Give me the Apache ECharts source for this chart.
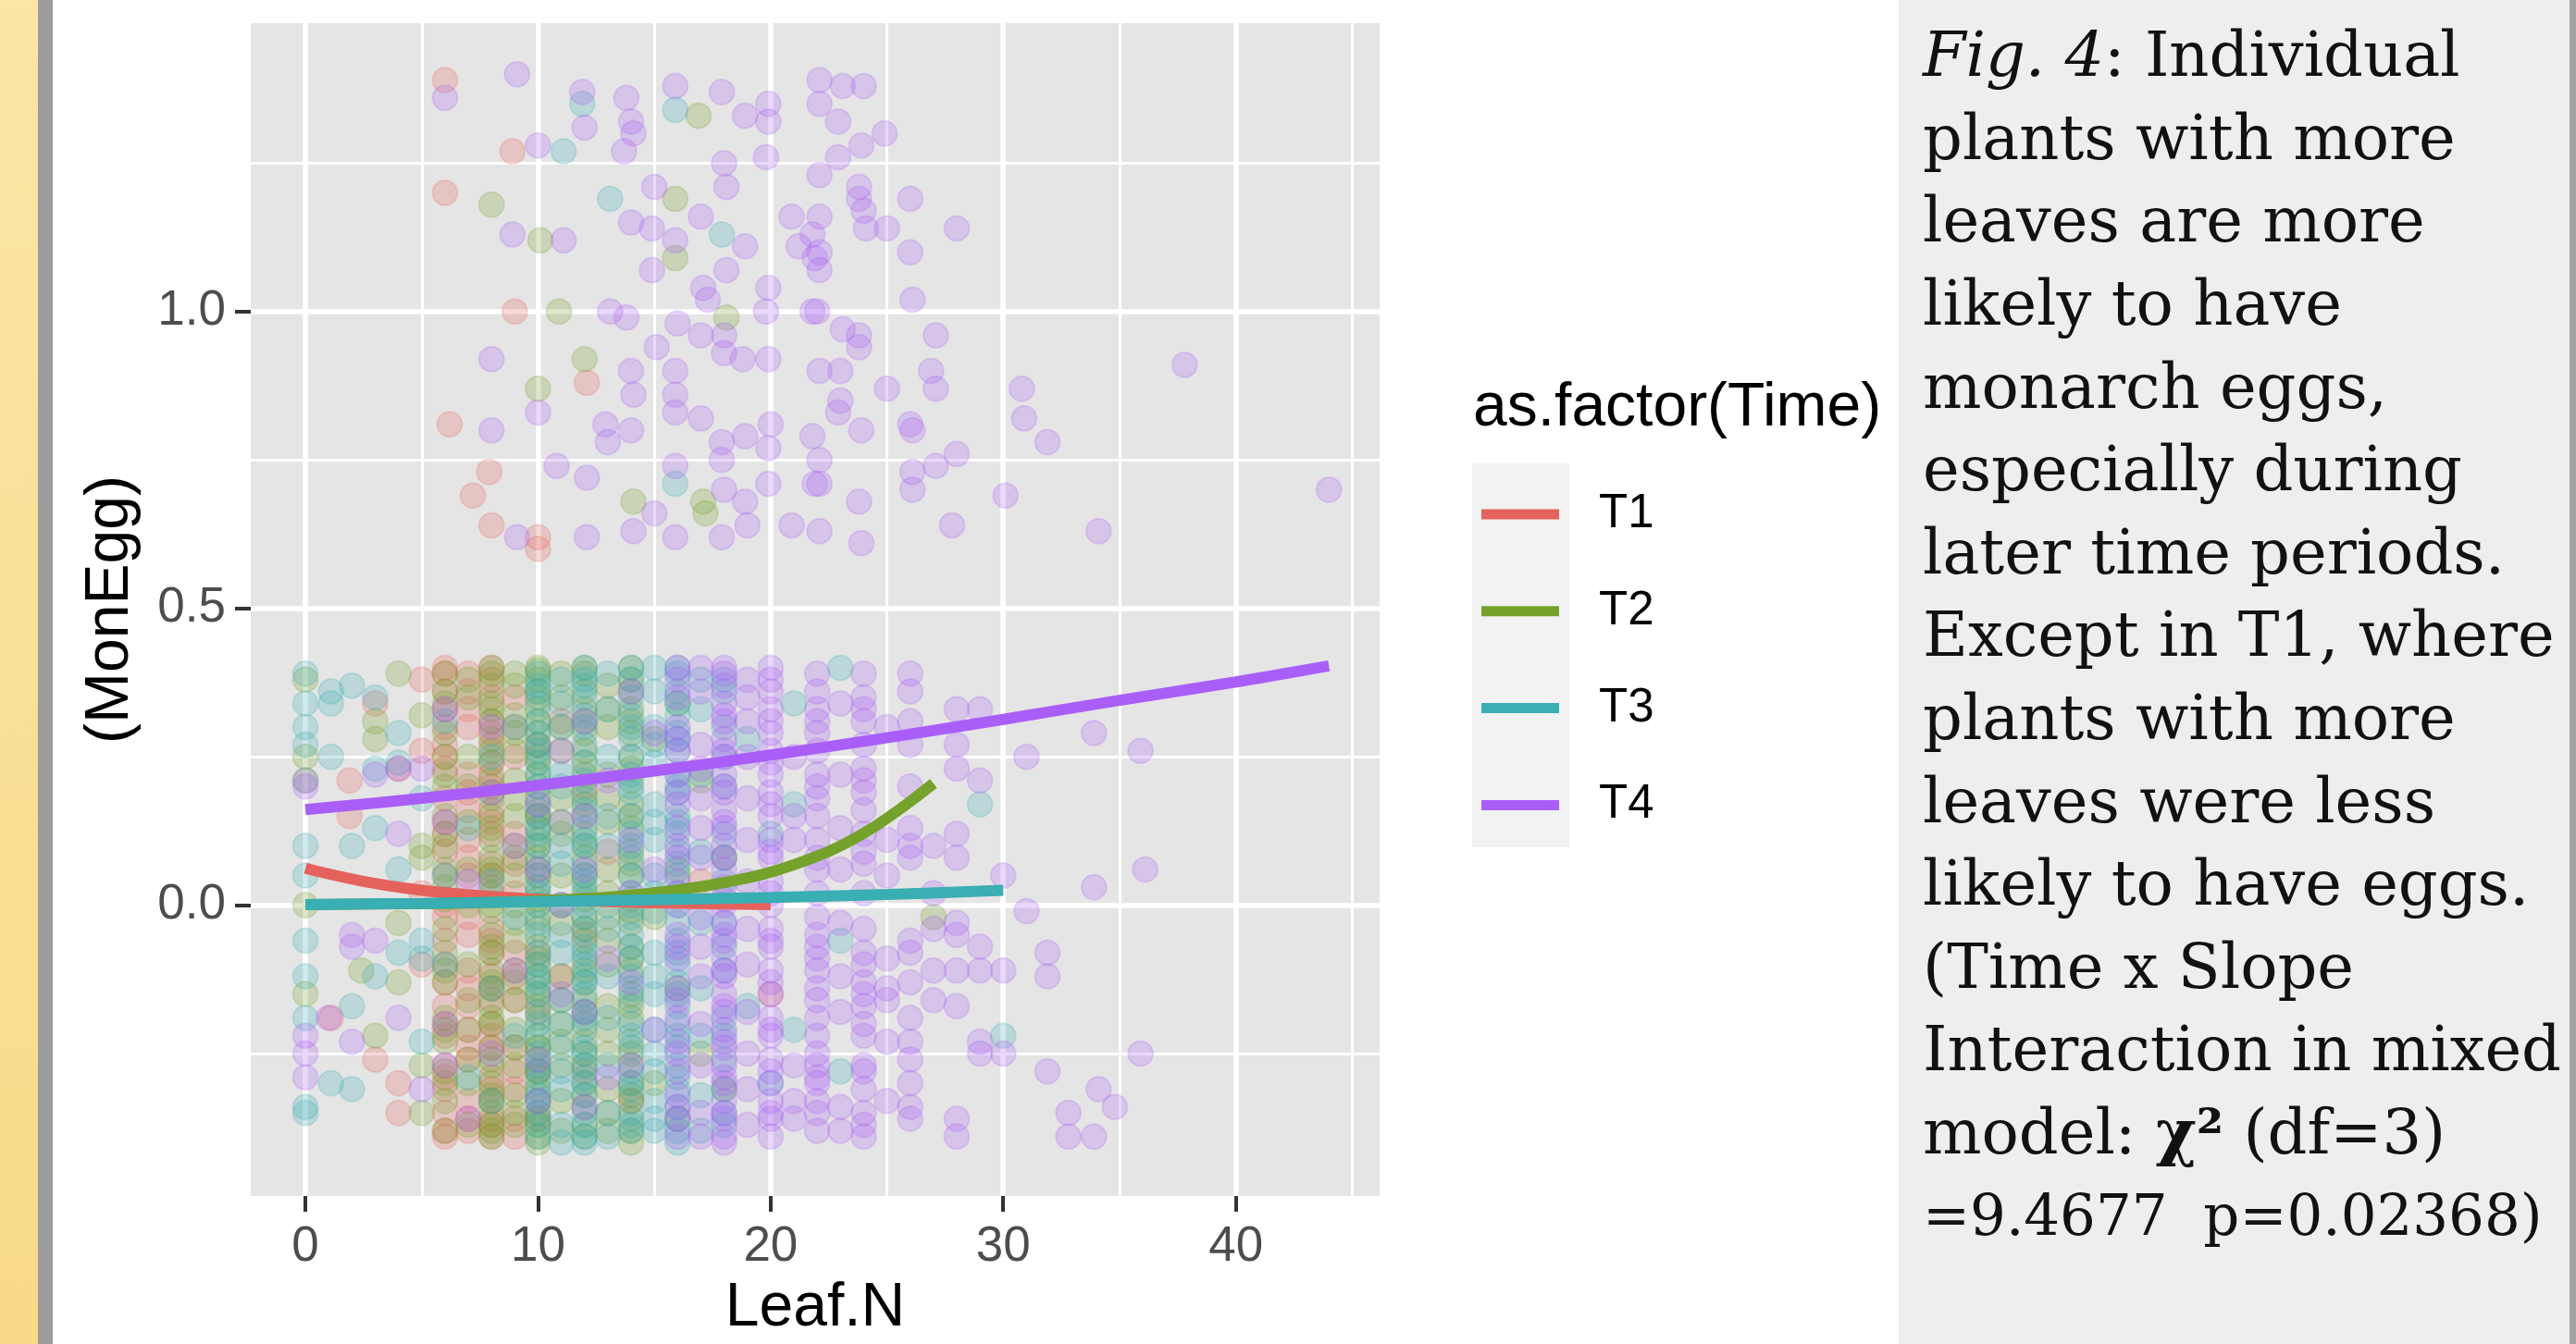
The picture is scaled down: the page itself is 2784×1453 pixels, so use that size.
<!DOCTYPE html>
<html>
<head>
<meta charset="utf-8">
<title>MonEgg vs Leaf.N</title>
<script src="https://cdn.jsdelivr.net/npm/echarts@6/dist/echarts.min.js"></script>
<style>
  html, body { margin: 0; padding: 0; background: #fff; }
  #chart { width: 2784px; height: 1453px; }
</style>
</head>
<body>
<div id="chart"></div>
<script>
const timeNames = ['T1', 'T2', 'T3', 'T4']
const timeColors = ['#E5625C', '#74A22A', '#39AEB3', '#A95EF7']

const xMajor = [0, 10, 20, 30, 40]
const xMinor = [5, 15, 25, 35, 45]
const yMajor = [0, 0.5, 1]
const yMinor = [-0.25, 0.25, 0.75, 1.25]

// MonEgg = 0 plants, jittered: [Leaf.N, [y, y, ...]]
const t1NoEgg = [
  [0, [0.21]], [1.1, [-0.19]], [1.9, [0.21, 0.15]], [3, [0.34, -0.26]], [4, [0.23, -0.3, -0.35]],
  [5, [0.38, 0.26, 0.02, -0.1]],
  [6, [0.39, 0.33, 0.27, 0.18, 0.09, -0.02, -0.13, -0.22, -0.31, -0.38, 0.36, 0.3, 0.23, 0.14, 0.05, -0.06, -0.17, -0.27, -0.35,
    0.4, 0.25, 0.12, 0.0, -0.1, -0.2, -0.29, -0.39]],
  [7, [0.36, 0.3, 0.22, 0.11, -0.05, -0.17, -0.26, -0.33, 0.39, 0.16, 0.05, -0.11, -0.21, -0.38,
    0.33, 0.19, 0.08, -0.02, -0.14, -0.24, -0.36]],
  [8, [0.38, 0.31, 0.24, 0.16, 0.07, -0.04, -0.12, -0.2, -0.29, -0.37, 0.35, 0.27, 0.2, 0.12, 0.03, -0.08, -0.16, -0.24, -0.33, -0.39,
    0.4, 0.29, 0.22, 0.14, 0.05, -0.06, -0.14, -0.22, -0.31, -0.36]],
  [9, [0.35, 0.12, -0.08, -0.24, -0.39, 0.25, 0.02, -0.16, -0.31, 0.3, 0.07, -0.12, -0.28, -0.36]],
  [10, [0.27, 0.05, -0.18, -0.36, 0.15, -0.08, -0.28]], [11, [0.31, 0.14, -0.12]],
  [12, [0.2, -0.05, -0.28]], [13, [0.09]], [14, [-0.33]], [17, [0.04]], [20, [-0.15]]
]
const t2NoEgg = [
  [0, [0.38, 0.25, 0.0, -0.15]], [2.4, [-0.11]], [3, [0.31, 0.28, -0.22]], [4, [0.39, -0.03, -0.13]],
  [5, [0.32, 0.1, 0.08, -0.27, -0.35]],
  [6, [0.36, 0.29, 0.2, 0.1, 0.03, -0.08, -0.19, -0.28, 0.39, 0.25, 0.15, 0.06, -0.04, -0.13, -0.23, -0.33, -0.38,
    0.34, 0.22, 0.12, 0.01, -0.11, -0.21, -0.3]],
  [7, [0.25, 0.14, 0.0, -0.21, 0.35, -0.1, -0.3, 0.38, 0.2, 0.06, -0.16, -0.26, -0.37]],
  [8, [0.4, 0.34, 0.28, 0.21, 0.15, 0.08, 0.02, -0.05, -0.11, -0.17, -0.24, -0.3, -0.35, -0.39,
    0.37, 0.31, 0.24, 0.18, 0.11, 0.05, -0.01, -0.08, -0.14, -0.2, -0.27, -0.33, -0.37,
    0.39, 0.33, 0.26, 0.19, 0.13, 0.06, 0.0, -0.07, -0.13, -0.19, -0.26, -0.32, -0.38]],
  [9, [0.37, 0.26, 0.15, 0.05, -0.06, -0.16, -0.27, -0.37, 0.32, 0.21, 0.1, 0.0, -0.11, -0.21, -0.32,
    0.39, 0.29, 0.18, 0.08, -0.03, -0.13, -0.24, -0.35]],
  [10, [0.4, 0.36, 0.33, 0.31, 0.27, 0.22, 0.18, 0.13, 0.08, 0.03, -0.02, -0.07, -0.12, -0.17, -0.22, -0.26, -0.28, -0.31, -0.35, -0.39,
    0.38, 0.24, 0.15, 0.1, 0.0, -0.09, -0.14, -0.24, -0.33, -0.37,
    0.395, 0.35, 0.29, 0.25, 0.2, 0.16, 0.11, 0.06, 0.01, -0.04, -0.1, -0.15, -0.19, -0.24, -0.29, -0.36, -0.4]],
  [11, [0.35, 0.12, -0.03, -0.2, -0.33, 0.26, 0.05, -0.12, -0.27, 0.39, 0.3, 0.18, 0.0, -0.16, -0.23, -0.38]],
  [12, [0.39, 0.33, 0.26, 0.19, 0.12, 0.05, -0.02, -0.09, -0.16, -0.23, -0.3, -0.37,
    0.36, 0.29, 0.22, 0.15, 0.08, 0.01, -0.06, -0.13, -0.2, -0.27, -0.34,
    0.4, 0.31, 0.24, 0.17, 0.1, 0.03, -0.04, -0.11, -0.18, -0.25, -0.32, -0.39]],
  [13, [0.37, 0.22, 0.06, -0.1, -0.25, -0.38, 0.3, 0.14, -0.02, -0.17, -0.31, 0.33, 0.18, 0.02, -0.06, -0.21, -0.35]],
  [14, [0.4, 0.33, 0.25, 0.17, 0.09, 0.01, -0.07, -0.15, -0.23, -0.3, -0.36, -0.4,
    0.36, 0.29, 0.21, 0.13, 0.05, -0.03, -0.11, -0.19, -0.27, -0.33,
    0.38, 0.31, 0.23, 0.15, 0.07, -0.01, -0.09, -0.17, -0.25, -0.32, -0.38]],
  [15, [0.28, -0.02, -0.3]], [16, [0.34, 0.06, -0.14, -0.36]], [17, [0.21, -0.25]], [18, [0.08, -0.31]],
  [27, [-0.02]]
]
const t3NoEgg = [
  [0, [0.39, 0.34, 0.3, 0.27, 0.21, 0.1, 0.05, -0.06, -0.12, -0.19, -0.34, -0.35]],
  [1.1, [0.36, 0.34, 0.25, -0.3]], [2, [0.37, 0.1, -0.17, -0.31]], [3, [0.35, 0.23, 0.13, -0.12]],
  [4, [0.29, 0.24, 0.06, -0.08]], [5, [0.18, -0.06, -0.09, -0.23]], [6, [0.31, 0.05, -0.1]],
  [7, [0.13, -0.29]], [8, [0.25, 0.04, -0.14, -0.33]], [9, [0.3, -0.02, -0.22]],
  [10, [0.39, 0.34, 0.29, 0.24, 0.2, 0.15, 0.1, 0.05, 0.0, -0.05, -0.1, -0.15, -0.2, -0.25, -0.3, -0.35, -0.39,
    0.37, 0.31, 0.26, 0.17, 0.12, 0.07, 0.02, -0.03, -0.12, -0.18, -0.27, -0.32, -0.37,
    0.36, 0.27, 0.22, 0.13, 0.03, -0.08, -0.13, -0.22, -0.28, -0.33]],
  [11, [0.38, 0.22, 0.07, -0.08, -0.24, -0.37, 0.3, 0.14, 0.0, -0.16, -0.31, 0.34, 0.2, 0.1, -0.05, -0.2, -0.28, -0.4]],
  [12, [0.4, 0.35, 0.3, 0.24, 0.18, 0.13, 0.07, 0.02, -0.04, -0.1, -0.15, -0.21, -0.27, -0.32, -0.37, -0.4,
    0.37, 0.32, 0.21, 0.1, 0.04, -0.07, -0.12, -0.18, -0.24, -0.29, -0.35,
    0.38, 0.27, 0.16, 0.11, 0.05, 0.0, -0.02, -0.08, -0.13, -0.19, -0.25, -0.3, -0.39]],
  [13, [0.33, 0.15, -0.04, -0.19, -0.35, 0.39, 0.25, 0.1, 0.0, -0.12, -0.27, -0.39]],
  [14, [0.38, 0.32, 0.25, 0.19, 0.12, 0.05, -0.02, -0.09, -0.16, -0.24, -0.31, -0.38,
    0.35, 0.28, 0.22, 0.15, 0.08, 0.02, -0.05, -0.12, -0.2, -0.28, -0.35,
    0.4, 0.3, 0.2, 0.1, 0.0, -0.07, -0.14, -0.22, -0.3, -0.37]],
  [15, [0.36, 0.24, 0.11, -0.01, -0.15, -0.28, -0.38, 0.3, 0.17, 0.05, -0.08, -0.21, -0.33,
    0.4, 0.27, 0.14, 0.02, -0.12, -0.25, -0.36]],
  [16, [0.39, 0.32, 0.26, 0.19, 0.12, 0.05, -0.03, -0.1, -0.17, -0.24, -0.31, -0.38,
    0.36, 0.29, 0.22, 0.15, 0.09, 0.02, -0.06, -0.13, -0.2, -0.27, -0.34, -0.4,
    0.4, 0.34, 0.28, 0.2, 0.14, 0.07, 0.0, -0.08, -0.15, -0.22, -0.29, -0.36]],
  [17, [0.33, 0.09, -0.14, -0.32, 0.38, 0.22, -0.03, -0.22, -0.38]],
  [18, [0.36, 0.2, 0.04, -0.11, -0.26, -0.37, 0.3, 0.12, -0.03, -0.19, -0.31, 0.38, 0.25, 0.08, -0.07, -0.22, -0.35]],
  [19, [0.28, -0.17]], [20, [0.12, -0.3]], [21, [0.34, 0.17, -0.21]], [23, [0.4, -0.06, -0.28]],
  [29, [0.17]], [30, [-0.22]]
]
const t4NoEgg = [
  [0, [0.2, -0.22, -0.25, -0.29]], [1, [-0.19]], [2, [-0.05, -0.07, -0.23]], [3, [0.22, -0.06]],
  [4, [0.23, 0.12, -0.19]], [5, [0.23, -0.31]], [6, [0.33, 0.14, -0.2, -0.27]], [7, [0.04, -0.36]],
  [8, [0.3, 0.19, -0.25]], [9, [0.1, -0.11]], [10, [0.17, 0.06, -0.26, -0.33]], [11, [0.26, 0.0, -0.15]],
  [12, [0.31, 0.15, 0.06, -0.18, -0.34]], [13, [0.21, -0.09, -0.29]], [14, [0.36, 0.11, 0.02, -0.13, -0.27]],
  [15, [0.29, 0.06, -0.21]],
  [16, [0.4, 0.3, 0.22, 0.13, 0.04, -0.05, -0.14, -0.23, -0.32, -0.39, 0.35, 0.26, 0.17, 0.08, 0.0, -0.09, -0.19, -0.28, -0.36,
    0.38, 0.28, 0.19, 0.1, 0.02, -0.07, -0.16, -0.25, -0.34]],
  [17, [0.36, 0.18, -0.02, -0.2, -0.35, 0.27, 0.08, -0.12, 0.4, 0.23, 0.13, -0.07, -0.27, -0.39]],
  [18, [0.39, 0.34, 0.28, 0.22, 0.16, 0.1, 0.03, -0.03, -0.09, -0.15, -0.21, -0.27, -0.33, -0.39,
    0.37, 0.31, 0.25, 0.19, 0.13, 0.06, 0.0, -0.06, -0.12, -0.18, -0.24, -0.3, -0.36,
    0.4, 0.32, 0.26, 0.2, 0.14, 0.08, 0.01, -0.05, -0.11, -0.17, -0.23, -0.29, -0.35, -0.4]],
  [19, [0.38, 0.25, 0.11, -0.04, -0.18, -0.31, 0.31, 0.04, -0.25, 0.35, 0.18, -0.1, -0.37]],
  [20, [0.4, 0.33, 0.26, 0.19, 0.11, 0.04, -0.04, -0.11, -0.19, -0.26, -0.33, -0.39,
    0.36, 0.29, 0.22, 0.15, 0.08, 0.0, -0.07, -0.15, -0.22, -0.3, -0.36,
    0.38, 0.31, 0.24, 0.17, 0.09, 0.02, -0.06, -0.13, -0.21, -0.28, -0.35]],
  [21, [0.25, 0.15, 0.11, -0.27, -0.33, -0.36]],
  [22, [0.39, 0.36, 0.33, 0.29, 0.22, 0.2, 0.15, 0.11, 0.06, -0.02, -0.07, -0.09, -0.14, -0.19, -0.22, -0.27, -0.3, -0.35, -0.38,
    0.26, 0.02, -0.11, -0.25, -0.33, 0.31, 0.18, 0.08, -0.05, -0.16, -0.29]],
  [23, [0.34, 0.22, 0.13, 0.06, -0.03, -0.12, -0.18, -0.34, -0.38]],
  [24, [0.39, 0.35, 0.31, 0.23, 0.19, 0.16, 0.07, -0.08, -0.1, -0.17, -0.2, -0.22, -0.31, -0.35, -0.39,
    0.27, 0.12, 0.02, -0.13, -0.27, 0.33, 0.21, 0.09, -0.04, -0.15, -0.28, -0.37]],
  [25, [0.3, 0.11, 0.05, -0.09, -0.14, -0.16, -0.23, -0.33]],
  [26, [0.39, 0.36, 0.27, 0.2, 0.13, 0.08, -0.06, -0.08, -0.19, -0.23, -0.26, -0.34, -0.36, 0.31, 0.1, -0.13, -0.3]],
  [27, [0.1, 0.02, -0.04, -0.11, -0.16]],
  [28, [0.33, 0.27, 0.23, 0.12, 0.08, -0.03, -0.05, -0.11, -0.17, -0.36, -0.39]],
  [29, [0.33, 0.21, -0.07, -0.11, -0.23, -0.25]], [30, [0.05, -0.11, -0.25]], [31, [0.25, -0.01]],
  [31.9, [-0.08, -0.12, -0.28]], [32.8, [-0.35, -0.39]], [33.9, [0.29, 0.03, -0.39]], [34.1, [-0.31]],
  [34.8, [-0.34]], [35.9, [0.26, -0.25]], [36.1, [0.06]]
]

// MonEgg = 1 plants, jittered: [Leaf.N, y]
const t1Egg = [[6, 1.39], [8.9, 1.27], [6, 1.2], [9, 1.0], [12.1, 0.88], [6.2, 0.81], [7.9, 0.73], [7.2, 0.69], [8, 0.64], [10, 0.62], [10, 0.6]]
const t2Egg = [[8, 1.18], [10.1, 1.12], [12, 0.92], [10, 0.87], [14.1, 0.68], [15.9, 1.09], [10.9, 1.0], [15.9, 1.19], [18.1, 0.99], [17.1, 0.68], [16.9, 1.33], [17.2, 0.66]]
const t3Egg = [[11.1, 1.27], [13.1, 1.19], [17.9, 1.13], [15.9, 0.71], [11.9, 1.35], [15.9, 1.34]]
const t4Egg = [
  [6, 1.36], [9.1, 1.4], [12, 1.31], [11.9, 1.37], [13.8, 1.36], [10, 1.28], [8.9, 1.13], [11.1, 1.12], [14, 1.32],
  [14.1, 1.3], [13.7, 1.27], [15.9, 1.38], [17.9, 1.37], [18.9, 1.33], [19.9, 1.32], [19.8, 1.26], [19.9, 1.35],
  [15, 1.21], [17, 1.16], [18, 1.25], [18.1, 1.21], [14, 1.15], [14.9, 1.14], [15.9, 1.12], [14.9, 1.07], [18.1, 1.07],
  [17.1, 1.04], [17.3, 1.02], [18.9, 1.11], [19.9, 1.04], [19.8, 1.0], [20.9, 1.16], [21.8, 1.13], [21.2, 1.11],
  [21.9, 1.09], [21.8, 1.0], [13.1, 1.0], [13.8, 0.99], [15.1, 0.94], [16, 0.98], [17, 0.96], [18, 0.96], [18.8, 0.92],
  [19.9, 0.92], [18, 0.93], [8, 0.92], [10, 0.83], [14, 0.9], [14.1, 0.86], [15.9, 0.9], [15.9, 0.86], [15.9, 0.83],
  [17, 0.82], [12.9, 0.81], [14, 0.8], [13, 0.78], [8, 0.8], [17.9, 0.78], [18.9, 0.79], [20, 0.81], [19.9, 0.77],
  [21.8, 0.79], [10.8, 0.74], [12.1, 0.72], [9.1, 0.62], [12.1, 0.62], [14.1, 0.63], [15, 0.66], [15.9, 0.74],
  [15.9, 0.62], [17.9, 0.75], [18, 0.7], [17.9, 0.62], [18.9, 0.68], [19, 0.64], [19.9, 0.71], [20.9, 0.64], [21.9, 0.71],
  [22.1, 1.39], [23.1, 1.38], [24, 1.38], [22.1, 1.35], [22.9, 1.32], [24.9, 1.3], [23.9, 1.28], [22.9, 1.26],
  [22.1, 1.23], [23.8, 1.21], [23.8, 1.19], [24, 1.17], [26, 1.19], [25, 1.14], [24.1, 1.14], [28, 1.14], [22.1, 1.16],
  [22.1, 1.1], [22.1, 1.07], [26, 1.1], [26.1, 1.02], [22, 1.0], [23.1, 0.97], [23.8, 0.96], [23.8, 0.94], [27.1, 0.96],
  [23, 0.9], [22.1, 0.9], [26.9, 0.9], [25, 0.87], [27.1, 0.87], [37.8, 0.91], [30.8, 0.87], [30.9, 0.82], [31.9, 0.78],
  [23, 0.85], [22.9, 0.83], [23.9, 0.8], [26, 0.81], [26.1, 0.8], [27.1, 0.74], [22.1, 0.75], [22.1, 0.71], [23.8, 0.68],
  [26.1, 0.73], [26.1, 0.7], [30.1, 0.69], [27.8, 0.64], [34.1, 0.63], [44, 0.7], [22.1, 0.63], [23.9, 0.61], [28, 0.76]
]

// fitted curves: [Leaf.N, MonEgg]
const t1Fit = [[0, 0.062], [2.5, 0.04], [5, 0.025], [7.5, 0.016], [10, 0.01], [15, 0.004], [20, 0.001]]
const t2Fit = [[0, 0.001], [3, 0.002], [6, 0.003], [9, 0.006], [12, 0.011], [15, 0.021], [18, 0.038], [21, 0.068], [24, 0.121], [27, 0.205]]
const t3Fit = [[0, 0.001], [5, 0.003], [10, 0.006], [15, 0.009], [20, 0.013], [25, 0.018], [30, 0.025]]
const t4Fit = [[0, 0.161], [5, 0.18], [10, 0.202], [15, 0.226], [20, 0.253], [25, 0.282], [30, 0.313], [35, 0.345], [40, 0.376], [44, 0.403]]

const captionLines = [
  '{i|Fig. 4}: Individual',
  'plants with more',
  'leaves are more',
  'likely to have',
  'monarch eggs,',
  'especially during',
  'later time periods.',
  'Except in T1, where',
  'plants with more',
  'leaves were less',
  'likely to have eggs.',
  '(Time x Slope',
  'Interaction in mixed',
  'model: {b|χ²} (df=3)',
  '{n|=9.4677  p=0.02368)}'
]

const sans = 'Liberation Sans, Arial, Helvetica, sans-serif'
const serif = 'DejaVu Serif, serif'

const fade = (hex, a) => {
  const n = parseInt(hex.slice(1), 16)
  return `rgba(${n >> 16}, ${(n >> 8) & 255}, ${n & 255}, ${a})`
}
const flatten = cols => {
  let out = []
  cols.forEach(([x, ys]) => ys.forEach(y => out.push([x, y])))
  return out
}

const noEggs = [t1NoEgg, t2NoEgg, t3NoEgg, t4NoEgg]
const eggs = [t1Egg, t2Egg, t3Egg, t4Egg]
const fits = [t1Fit, t2Fit, t3Fit, t4Fit]

const pointSeries = timeNames.map((name, i) => ({
  name: name + ' points',
  type: 'scatter',
  data: flatten(noEggs[i]).concat(eggs[i]),
  symbolSize: 27,
  silent: true,
  itemStyle: {
    color: fade(timeColors[i], 0.3),
    borderColor: fade(timeColors[i], 0.25),
    borderWidth: 2
  }
}))
const lineSeries = timeNames.map((name, i) => ({
  name: name,
  type: 'line',
  data: fits[i],
  color: timeColors[i],
  smooth: 0.4,
  showSymbol: false,
  silent: true,
  lineStyle: { width: 12, color: timeColors[i], cap: 'butt' }
}))

const tickStyle = { show: true, length: 17, lineStyle: { color: '#333', width: 4 } }
const labelStyle = { fontSize: 53, color: '#4D4D4D', fontFamily: sans }
const nameStyle = { fontSize: 66, color: '#000', fontFamily: sans }
const textFont = { fontSize: 67, fontFamily: serif, color: '#111', lineHeight: 89.6 }

const option = {
  animation: false,
  backgroundColor: '#fff',
  grid: {
    left: 271, right: 1293, top: 25, bottom: 155,
    show: true, backgroundColor: '#E5E5E5', borderWidth: 0
  },
  title: [
    {
      text: 'as.factor(Time)',
      left: 1592, top: 409, padding: 0,
      textStyle: { fontSize: 66, fontWeight: 'normal', color: '#000', fontFamily: sans, lineHeight: 66 }
    },
    {
      text: captionLines.join('\n'),
      left: 2078, top: 20, padding: 0,
      textStyle: {
        ...textFont, fontWeight: 'normal',
        rich: {
          i: { ...textFont, fontStyle: 'italic' },
          b: { ...textFont, fontWeight: 'bold' },
          n: { ...textFont, fontSize: 61 }
        }
      }
    }
  ],
  legend: {
    data: timeNames,
    orient: 'vertical',
    left: 1601, top: 526, padding: 0,
    icon: 'rect',
    itemWidth: 84, itemHeight: 11, itemGap: 44.8,
    selectedMode: false,
    textStyle: { fontSize: 51, color: '#000', fontFamily: sans, lineHeight: 60, padding: [0, 0, 0, 38] }
  },
  xAxis: [
    {
      type: 'value', min: -2.35, max: 46.18,
      axisLine: { show: false, onZero: false },
      axisTick: { ...tickStyle, customValues: xMajor },
      axisLabel: { ...labelStyle, customValues: xMajor, margin: 29 },
      splitLine: { show: true, lineStyle: { color: '#fff', width: 5.5 } },
      name: 'Leaf.N', nameLocation: 'middle', nameGap: 89, nameTextStyle: nameStyle
    },
    {
      type: 'value', min: -2.35, max: 46.18, position: 'bottom',
      axisLine: { show: false, onZero: false },
      axisTick: { show: false, customValues: xMinor },
      axisLabel: { show: false, customValues: xMinor },
      splitLine: { show: true, lineStyle: { color: '#fff', width: 3 } }
    }
  ],
  yAxis: [
    {
      type: 'value', min: -0.49, max: 1.486,
      axisLine: { show: false, onZero: false },
      axisTick: { ...tickStyle, customValues: yMajor },
      axisLabel: { ...labelStyle, customValues: yMajor, margin: 27, formatter: v => v.toFixed(1) },
      splitLine: { show: true, lineStyle: { color: '#fff', width: 5.5 } },
      name: '(MonEgg)', nameLocation: 'middle', nameGap: 118, nameTextStyle: nameStyle
    },
    {
      type: 'value', min: -0.49, max: 1.486, position: 'left',
      axisLine: { show: false, onZero: false },
      axisTick: { show: false, customValues: yMinor },
      axisLabel: { show: false, customValues: yMinor },
      splitLine: { show: true, lineStyle: { color: '#fff', width: 3 } }
    }
  ],
  graphic: [
    {
      type: 'rect', left: 0, top: 0, z: -10,
      shape: { width: 41, height: 1453 },
      style: { fill: new echarts.graphic.LinearGradient(0, 0, 0, 1, [{ offset: 0, color: '#FBE6A6' }, { offset: 1, color: '#F8DA89' }]) }
    },
    { type: 'rect', left: 41, top: 0, z: -10, shape: { width: 16, height: 1453 }, style: { fill: '#9C9C9C' } },
    { type: 'rect', left: 2052, top: 0, z: -10, shape: { width: 725, height: 1453 }, style: { fill: '#EEEEEE' } },
    { type: 'rect', left: 2777, top: 0, z: -10, shape: { width: 7, height: 1453 }, style: { fill: '#A3A3A3' } },
    { type: 'rect', left: 1591, top: 501, z: -10, shape: { width: 105, height: 415 }, style: { fill: '#F2F2F2' } }
  ],
  series: pointSeries.concat(lineSeries)
}

const chart = echarts.init(document.getElementById('chart'))
chart.setOption(option)
</script>
</body>
</html>
